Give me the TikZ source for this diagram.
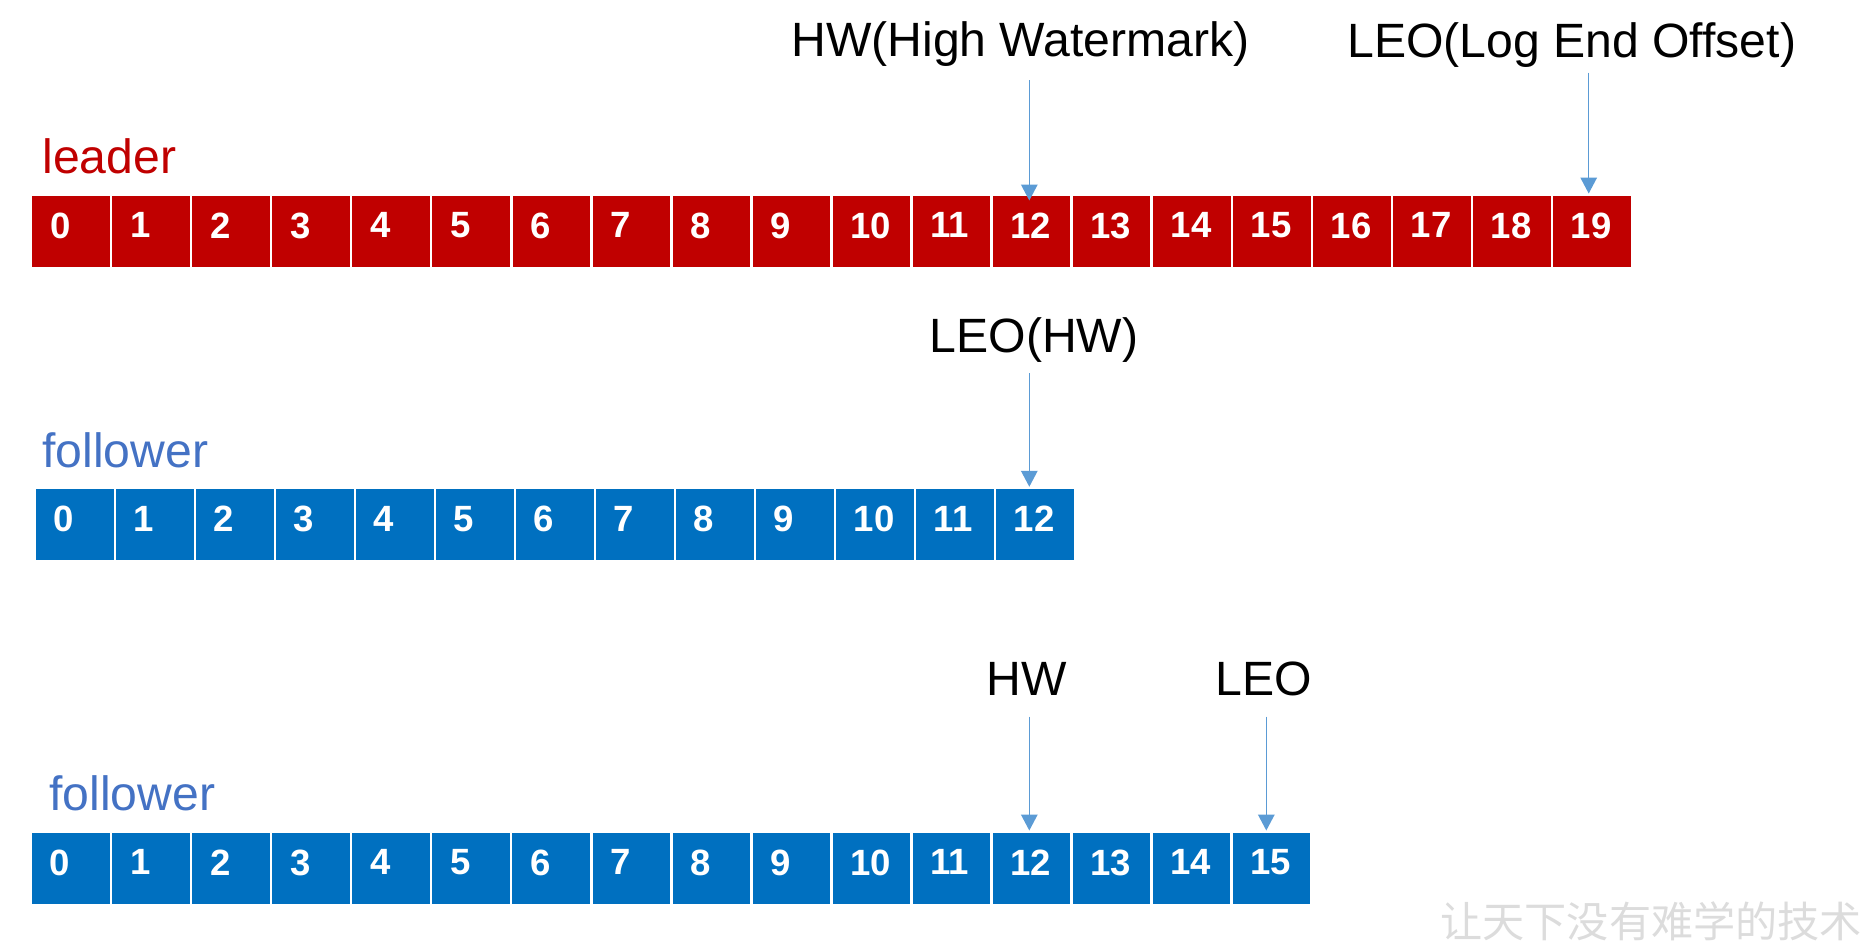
\documentclass[tikz,border=0pt]{standalone}
\usepackage{fontspec}
\setmainfont{Liberation Sans}
\newfontfamily\cjkfont{Noto Sans CJK SC}
\usetikzlibrary{arrows.meta}
\definecolor{leadred}{HTML}{C00000}
\definecolor{follblue}{HTML}{0070C0}
\definecolor{folltext}{HTML}{4472C4}
\definecolor{ptrblue}{HTML}{5B9BD5}
\definecolor{wmgray}{HTML}{DCDCDC}

\begin{document}
\begin{tikzpicture}[x=0.02cm, y=-0.02cm,
    cell/.style={draw=white, line width=1.4pt, minimum width=1.601cm, minimum height=1.46cm,
      inner xsep=0.38cm, text width=0.841cm, align=left, text depth=0.24cm, text=white,
      font=\fontsize{20.8}{24}\selectfont\bfseries},
    leadcell/.style={cell, fill=leadred},
    follcell/.style={cell, fill=follblue},
    tagtext/.style={anchor=base west, inner sep=0pt, font=\fontsize{27.4}{32}\selectfont},
    ptr/.style={ptrblue, line width=0.85pt, -{Triangle[width=0.33cm,length=0.32cm]}}]
  \useasboundingbox (0,0) rectangle (1869,940);

  % leader log
  \node[tagtext, text=leadred] (leader) at (42,173) {leader};
  \foreach \i in {0,...,19}
    \node[leadcell] (l\i) at ({71.025+80.05*\i},231.25) {\i};
  \node[tagtext] (hwlead) at (791,56.7) {HW(High Watermark)};
  \node[tagtext] (leolead) at (1347,57) {LEO(Log End Offset)};
  \coordinate (hwa) at (1029.3,80);
  \coordinate (leoa) at (1588.7,72.7);
  \draw[ptr, shorten >=-0.14cm] (hwa) -- (hwa |- l12.north);
  \draw[ptr] (leoa) -- (leoa |- l19.north);

  % first follower
  \node[tagtext, text=folltext] (folla) at (42,467) {follower};
  \foreach \i in {0,...,12}
    \node[follcell] (fa\i) at ({75+80*\i},524.5) {\i};
  \node[tagtext] (leofa) at (929.5,352.7) {LEO(HW)};
  \coordinate (leob) at (1029.3,373.3);
  \draw[ptr] (leob) -- (leob |- fa12.north);

  % second follower
  \node[tagtext, text=folltext] (follb) at (49,810) {follower};
  \foreach \i in {0,...,15}
    \node[follcell] (fb\i) at ({71+80.04*\i},868.25) {\i};
  \node[tagtext] (hwfb) at (986,695) {HW};
  \node[tagtext] (leofb) at (1215.5,695) {LEO};
  \coordinate (hwc) at (1029.3,716.7);
  \coordinate (leoc) at (1266.3,716.7);
  \draw[ptr] (hwc) -- (hwc |- fb12.north);
  \draw[ptr] (leoc) -- (leoc |- fb15.north);

  \node[anchor=base west, inner sep=0pt, text=wmgray, font=\cjkfont\fontsize{24}{24}\selectfont]
    (motto) at (1440,937) {让天下没有难学的技术};
\end{tikzpicture}
\end{document}
